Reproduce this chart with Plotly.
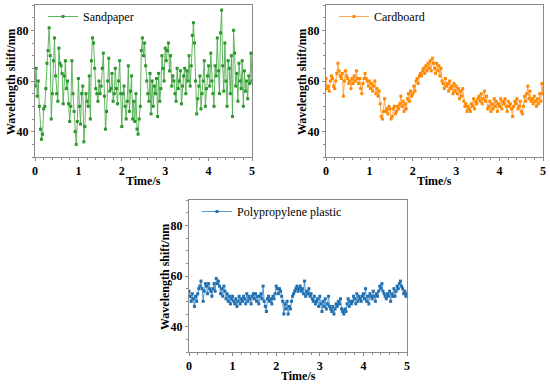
import plotly.graph_objects as go

time_s = [round(i * 0.025, 3) for i in range(201)]

sandpaper = [
    58,65,54,60,50,41,37,39,49,50,
    57,67,72,81,70,45,55,68,77,62,
    55,52,73,67,66,63,51,62,68,57,
    60,51,44,50,68,55,48,40,35,44,
    61,50,43,55,58,36,42,55,52,50,
    62,45,68,77,75,65,57,55,52,60,
    55,58,65,71,54,41,48,60,69,56,
    57,63,52,55,65,57,51,60,68,55,
    42,55,58,50,45,52,66,48,56,62,
    45,52,44,55,41,39,45,50,72,77,
    70,75,66,60,55,52,63,47,60,50,
    58,55,61,46,63,52,57,70,65,60,
    73,68,72,75,64,70,58,62,60,55,
    52,65,57,60,64,51,58,62,65,55,
    64,60,70,58,66,78,83,75,60,47,
    53,58,62,49,55,60,68,50,57,62,
    66,58,71,60,55,50,66,62,77,64,
    55,79,88,66,56,75,60,50,68,65,
    55,70,46,80,71,58,63,52,67,60,
    57,68,50,64,56,60,53,62,59,71,
    60,
]

cardboard = [
    61,57,58,56,60,62,61,58,57,60,
    63,67,64,62,61,63,54,60,64,62,
    61,59,60,57,61,59,62,60,64,61,
    59,61,57,55,59,61,63,61,60,58,
    60,57,59,56,58,60,55,57,54,56,
    51,46,45,48,53,48,49,47,50,49,
    45,46,49,50,47,48,50,49,51,54,
    50,52,48,51,49,53,55,52,56,54,
    55,58,56,60,61,59,62,63,62,64,
    65,63,66,64,67,65,68,64,69,67,
    65,63,67,64,66,62,65,60,59,57,
    61,58,59,56,60,57,58,55,59,56,
    58,55,57,53,56,54,57,52,50,51,
    48,50,49,48,51,50,53,49,52,51,
    53,54,52,55,51,53,56,52,54,49,
    50,52,48,51,49,53,50,52,48,51,
    50,53,49,52,51,53,50,48,52,50,
    51,49,46,50,52,51,53,49,50,52,
    48,47,50,54,52,55,58,53,56,52,
    53,51,54,52,50,53,51,55,52,59,
    55,
]

polypropylene = [
    54,52,50,53,51,48,52,50,53,55,
    56,58,55,50,54,57,56,53,57,55,
    54,52,55,57,54,59,57,58,56,53,
    55,52,56,54,51,53,50,52,49,51,
    52,50,49,51,48,50,52,49,51,50,
    52,51,49,53,50,52,51,49,52,53,
    51,53,50,52,49,52,53,51,56,50,
    48,46,51,52,50,51,49,52,51,53,
    56,55,53,55,54,52,50,45,49,47,
    50,45,48,47,50,52,53,54,55,56,
    54,55,56,54,55,53,58,52,54,53,
    55,52,53,51,50,52,49,50,51,48,
    52,49,46,50,48,51,47,49,52,48,
    47,46,48,45,47,49,48,50,49,51,
    47,46,45,47,46,49,51,48,50,49,
    50,52,51,49,53,50,52,51,50,52,
    53,51,55,50,52,49,53,52,51,54,
    52,50,53,52,54,56,55,57,54,53,
    52,51,53,52,54,50,53,52,55,52,
    54,56,55,57,58,56,55,53,54,52,
    53,
]

series_names = ["Sandpaper", "Cardboard", "Polypropylene plastic"]
line_colors = ["#4fae4f", "#ffa040", "#4a90c8"]
marker_colors = ["#2a962a", "#ff8800", "#1f6fb2"]
x_title = "Time/s"
y_title = "Wavelength shift/nm"

W, H = 550, 385
# plot areas in pixels (left, right, top, bottom)
boxes = [(35, 252, 5, 157), (326, 543, 5, 157), (189, 407, 200, 352)]

fig = go.Figure()
font_family = "Liberation Serif"
title_font = dict(family=font_family, size=12, color="black", weight="bold")

for i, (name, ys) in enumerate(zip(series_names, [sandpaper, cardboard, polypropylene])):
    sfx = "" if i == 0 else str(i + 1)
    fig.add_trace(go.Scatter(
        x=time_s, y=ys, name=name, mode="lines+markers",
        line=dict(color=line_colors[i], width=0.9),
        marker=dict(color=marker_colors[i], size=3, symbol="square"),
        xaxis="x" + sfx, yaxis="y" + sfx,
        legend="legend" + sfx,
    ))
    l, r, t, b = boxes[i]
    axcommon = dict(
        showline=True, linecolor="#8a8a8a", linewidth=1, mirror=True,
        ticks="outside", ticklen=3, tickcolor="#8a8a8a",
        minor=dict(ticks="outside", ticklen=2, tickcolor="#8a8a8a"),
        showgrid=False, zeroline=False, automargin=False,
        tickfont=dict(family=font_family, size=12, color="black", weight="bold"),
    )
    fig.update_layout(**{
        "xaxis" + sfx: dict(
            domain=[l / W, r / W], anchor="y" + sfx, range=[0, 5], dtick=1,
            **axcommon),
        "yaxis" + sfx: dict(
            domain=[1 - b / H, 1 - t / H], anchor="x" + sfx, range=[30, 90],
            tickvals=[40, 60, 80],
            **axcommon),
        "legend" + sfx: dict(
            x=(l + 8) / W, y=1 - (t - 3) / H, xanchor="left", yanchor="top",
            bgcolor="rgba(0,0,0,0)", itemwidth=30,
            font=dict(family=font_family, size=12, color="black"),
        ),
    })
    # axis titles
    fig.add_annotation(text=x_title, x=(l + r) / 2 / W, y=1 - (b + 24) / H,
                       xref="paper", yref="paper", showarrow=False,
                       xanchor="center", yanchor="middle", font=title_font)
    fig.add_annotation(text=y_title, x=(l - 24) / W, y=1 - ((t + b) / 2 + 1) / H,
                       xref="paper", yref="paper", showarrow=False, textangle=-90,
                       xanchor="center", yanchor="middle", font=title_font)

fig.update_layout(
    width=W, height=H, margin=dict(l=0, r=0, t=0, b=0),
    paper_bgcolor="white", plot_bgcolor="white", showlegend=True,
)

fig.write_html("out.html", config={"displayModeBar": False},
               post_script="document.body.style.margin='0';document.body.style.overflow='hidden';")
